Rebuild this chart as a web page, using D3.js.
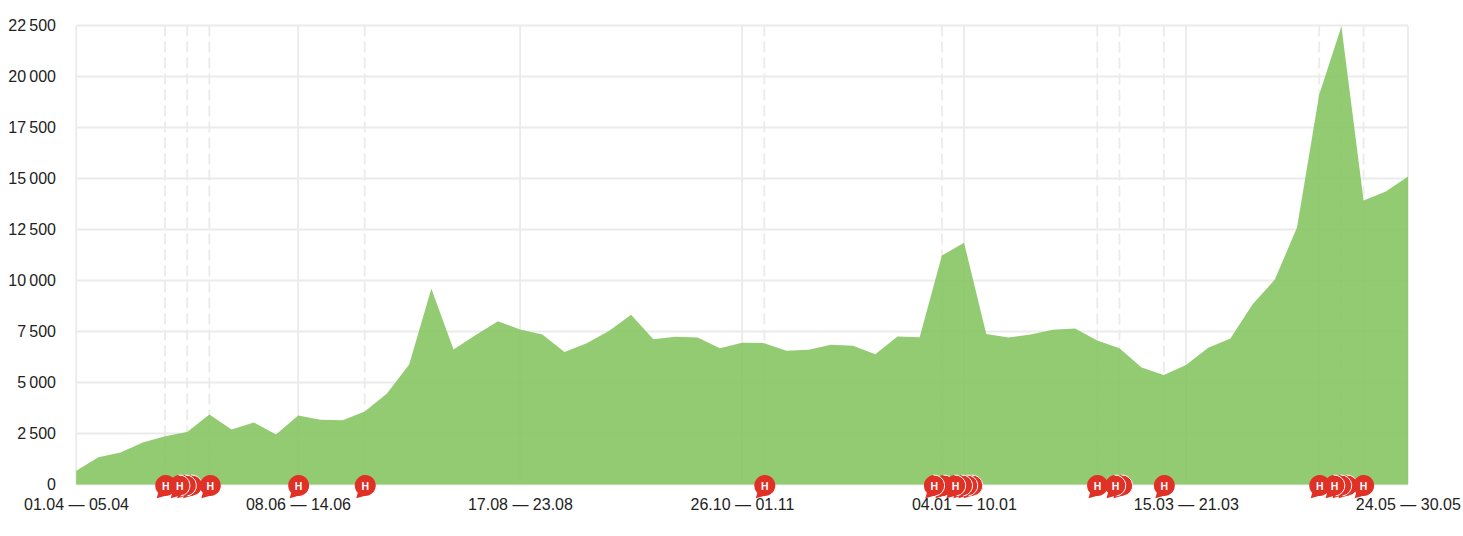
<!DOCTYPE html>
<html><head><meta charset="utf-8">
<script src="https://cdn.jsdelivr.net/npm/d3@7"></script>
<style>
html,body{margin:0;padding:0;background:#fff}
svg{display:block}
text{font-family:"Liberation Sans",Arial,sans-serif;fill:#222}
</style></head><body>
<svg id="c" width="1463" height="536"></svg>
<script>
const values=[680,1330,1570,2060,2370,2570,3430,2700,3040,2450,3380,3170,3150,3580,4460,5880,9600,6620,7330,8000,7600,7350,6500,6930,7520,8320,7120,7240,7210,6680,6950,6930,6560,6600,6850,6800,6380,7260,7220,11230,11850,7380,7210,7350,7580,7650,7060,6680,5740,5370,5860,6700,7160,8830,10050,12600,19120,22450,13920,14360,15100];
const yTicks=[0,2500,5000,7500,10000,12500,15000,17500,20000,22500];
const xLabelWeeks=[0,10,20,30,40,50,60];
const xLabels=["01.04 — 05.04","08.06 — 14.06","17.08 — 23.08","26.10 — 01.11","04.01 — 10.01","15.03 — 21.03","24.05 — 30.05"];
const dashedWeeks=[4,5,6,13,31,39,46,47,49,56,57,58];
// marker stack positions in week units; drawn in this order
const hiddenMarkers=[5.2,4.93,40.36,40.13,39.9,39.09,47.11,57.25,56.98];
const plainMarkers=[4.01,6.02,10,13,31,45.99,49,56,57.98];
const outlinedMarkers=[4.64,38.64,39.59,46.8,56.67];

const svg=d3.select("#c");
const x=d3.scaleLinear().domain([0,60]).range([76.2,1408]);
const y=d3.scaleLinear().domain([0,22500]).range([484.5,25.5]);
const fmt=v=>d3.format(",")(v).replace(/,/g,"\u2009");

const g=svg.append("g").attr("stroke","#ebebeb").attr("stroke-width",1.8);
g.selectAll(".h").data(yTicks).join("line").attr("x1",x(0)).attr("x2",x(60)).attr("y1",d=>y(d)).attr("y2",d=>y(d));
g.selectAll(".v").data([0,10,20,30,40,50,60]).join("line").attr("x1",d=>x(d)).attr("x2",d=>x(d)).attr("y1",y(22500)).attr("y2",y(0));
g.selectAll(".d").data(dashedWeeks).join("line").attr("x1",d=>x(d)).attr("x2",d=>x(d)).attr("y1",y(22500)).attr("y2",y(0)).attr("stroke-dasharray","11 5");

const area=d3.area().x((d,i)=>x(i)).y0(y(0)).y1(d=>y(d));
svg.append("path").datum(values).attr("d",area).attr("fill","#84c45f").attr("fill-opacity",.88);

svg.append("g").selectAll("text").data(yTicks).join("text")
 .attr("x",56).attr("y",d=>y(d)+5).attr("text-anchor","end").attr("font-size",16).text(fmt);
svg.append("g").selectAll("text").data(xLabels).join("text")
 .attr("x",(d,i)=>x(xLabelWeeks[i])+.3).attr("y",509.5).attr("text-anchor","middle").attr("font-size",16).text(d=>d);

const bubble="M-7.5,7.35A10.5,10.5 0 1 1 -1,10.45L-9,12.8Z";
const rightArc="M-1,-10.45A10.5,10.5 0 0 1 1,10.45";
function marker(data,cls,outlined,label){
  const m=svg.append("g").selectAll("g."+cls).data(data).join("g").attr("class",cls).attr("transform",d=>`translate(${x(d)+.5},485.5)`);
  m.append("path").attr("d",bubble).attr("fill","#e03127");
  if(outlined) m.append("path").attr("d",rightArc).attr("fill","none").attr("stroke","#fff").attr("stroke-width",1);
  if(label) m.append("text").attr("text-anchor","middle").attr("y",4).attr("font-size",10.5).attr("font-weight","bold").style("fill","#fff").text("H");
}
marker(hiddenMarkers,"hid",true,false);
marker(plainMarkers,"pl",false,true);
marker(outlinedMarkers,"ol",true,true);
</script></body></html>
